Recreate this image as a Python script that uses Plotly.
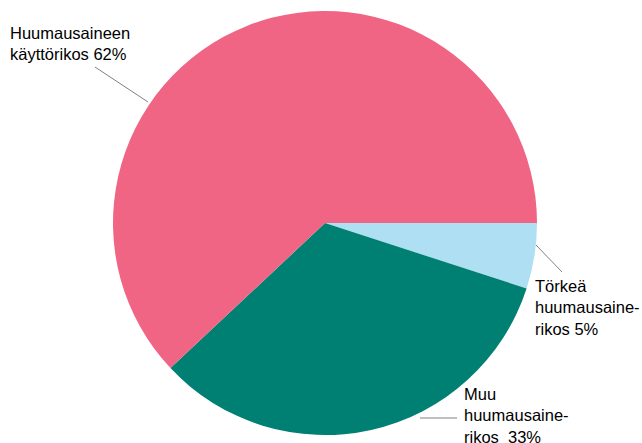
import plotly.graph_objects as go

W, H = 642, 443

# clockwise from 3 o'clock
labels = ["Törkeä huumausainerikos", "Muu huumausainerikos", "Huumausaineen käyttörikos"]
values = [5, 33, 62]
label_texts = ["Törkeä<br>huumausaine-<br>rikos 5%", "Muu<br>huumausaine-<br>rikos  33%", "Huumausaineen<br>käyttörikos 62%"]
colors = ["#AEDFF2", "#007F73", "#F06584"]

# label placement (pixels, top-left) and leader lines (pixels)
label_pos = [(533, 275), (462, 383), (8, 22)]
leader_lines = [((536, 245), (562, 272)), ((420, 418), (457, 418)), ((95, 67), (148, 102))]

cx, cy, r = 325, 223, 212

def px(x):
    return x / W

def py(y):
    return 1 - y / H

fig = go.Figure(go.Pie(
    labels=labels,
    values=values,
    sort=False,
    direction="clockwise",
    rotation=90,
    marker=dict(colors=colors, line=dict(width=0)),
    textinfo="none",
    hoverinfo="label+percent",
    domain=dict(x=[px(cx - r), px(cx + r)], y=[py(cy + r), py(cy - r)]),
    showlegend=False,
))

for (x, y), t in zip(label_pos, label_texts):
    fig.add_annotation(x=px(x), y=py(y), xref="paper", yref="paper",
                       text=t, showarrow=False, xanchor="left", yanchor="top",
                       align="left", font=dict(family="Liberation Sans, Arial", size=16.5, color="#000000"))

for (a, b) in leader_lines:
    fig.add_shape(type="line", xref="paper", yref="paper",
                  x0=px(a[0]), y0=py(a[1]), x1=px(b[0]), y1=py(b[1]),
                  line=dict(color="#808080", width=1))

fig.update_layout(width=W, height=H, margin=dict(l=0, r=0, t=0, b=0),
                  paper_bgcolor="white", plot_bgcolor="white")

fig.write_html("out.html", config={"displayModeBar": False})

with open("out.html", "r", encoding="utf-8") as f:
    html = f.read()
html = html.replace("<body>", '<body style="margin:0;padding:0;overflow:hidden">', 1)
with open("out.html", "w", encoding="utf-8") as f:
    f.write(html)
